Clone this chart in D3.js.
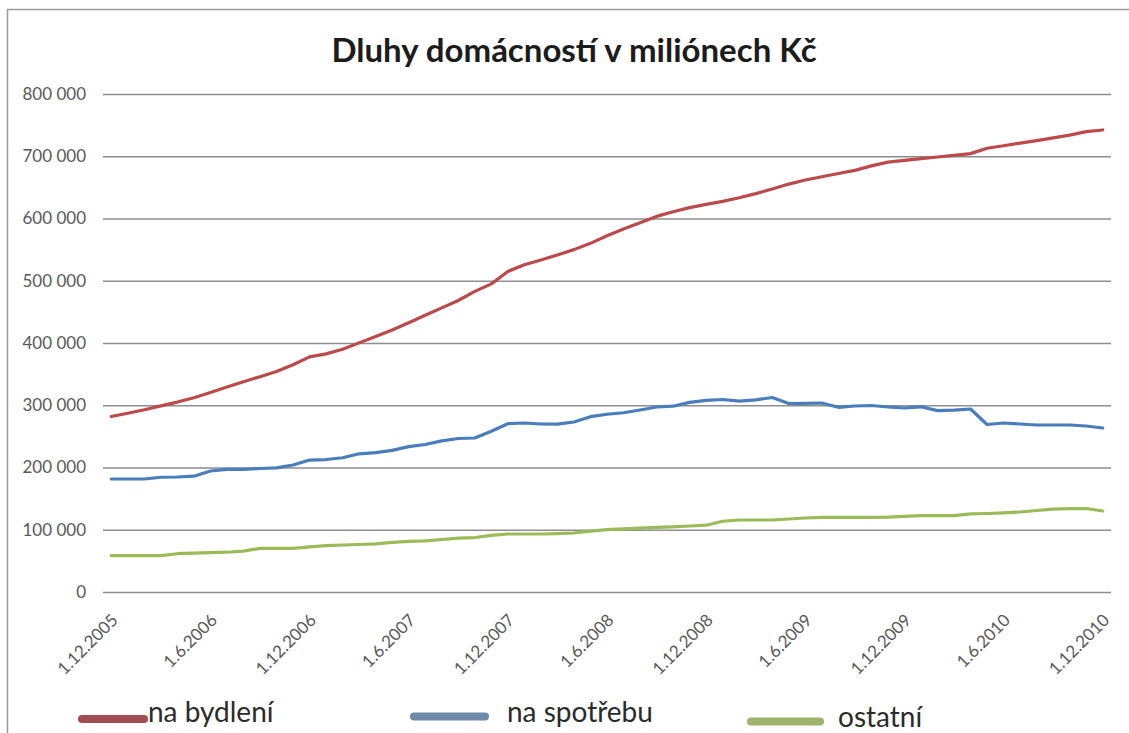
<!DOCTYPE html>
<html>
<head>
<meta charset="utf-8">
<script src="https://cdn.jsdelivr.net/npm/d3@7"></script>
<style>
  body { margin: 0; background: #fff; }
  svg { display: block; font-family: Lato, 'Open Sans', sans-serif; }
</style>
</head>
<body>
<svg id="Chart"></svg>
<script>
// Dluhy domacnosti - monthly values in mil. Kc
let months = [
  '1.12.2005',
  '1.1.2006', '1.2.2006', '1.3.2006', '1.4.2006', '1.5.2006', '1.6.2006', '1.7.2006', '1.8.2006', '1.9.2006', '1.10.2006', '1.11.2006', '1.12.2006',
  '1.1.2007', '1.2.2007', '1.3.2007', '1.4.2007', '1.5.2007', '1.6.2007', '1.7.2007', '1.8.2007', '1.9.2007', '1.10.2007', '1.11.2007', '1.12.2007',
  '1.1.2008', '1.2.2008', '1.3.2008', '1.4.2008', '1.5.2008', '1.6.2008', '1.7.2008', '1.8.2008', '1.9.2008', '1.10.2008', '1.11.2008', '1.12.2008',
  '1.1.2009', '1.2.2009', '1.3.2009', '1.4.2009', '1.5.2009', '1.6.2009', '1.7.2009', '1.8.2009', '1.9.2009', '1.10.2009', '1.11.2009', '1.12.2009',
  '1.1.2010', '1.2.2010', '1.3.2010', '1.4.2010', '1.5.2010', '1.6.2010', '1.7.2010', '1.8.2010', '1.9.2010', '1.10.2010', '1.11.2010', '1.12.2010'
];

let bydleni = [
  281900, 287200, 292700, 299000, 305100, 312100, 320600, 329200, 337700, 345900,
  354200, 365000, 377800, 382500, 390000, 400200, 410600, 421000, 432400, 444500,
  456400, 468300, 483000, 495000, 515000, 525800, 533300, 541500, 550000, 560100,
  572200, 583100, 593200, 603400, 610900, 617500, 622800, 627500, 633400, 640000,
  647400, 655300, 661800, 667100, 672300, 677300, 684600, 690600, 693500, 696200,
  698800, 701500, 704200, 712800, 716900, 721100, 725100, 729500, 734000, 739600,
  742200
];

let spotreba = [
  181500, 181500, 181500, 184300, 184700, 186000, 194400, 197100, 197100, 198400,
  199500, 204000, 212000, 212800, 215700, 222000, 223900, 227600, 233600, 236900,
  242700, 246600, 247400, 258300, 270400, 271500, 269900, 269600, 273100, 281600,
  285500, 288000, 292400, 297200, 298500, 304700, 307900, 309200, 306700, 308600,
  312400, 302800, 303000, 303600, 296700, 298800, 299600, 297200, 295600, 297500,
  291400, 292200, 294000, 269100, 271500, 269900, 268300, 268300, 268300, 266700,
  263400
];

let ostatni = [
  58300, 58300, 58300, 58300, 61500, 62600, 63100, 63900, 65700, 70200,
  70200, 70200, 72400, 74500, 75500, 76300, 77400, 79700, 81300, 82100,
  84300, 86600, 87500, 90900, 93200, 93200, 93200, 93800, 94800, 97700,
  100200, 101500, 102600, 103800, 104700, 106000, 107300, 113700, 115700, 115700,
  115700, 117300, 118900, 120000, 120000, 120000, 120000, 120200, 121400, 122600,
  122600, 122600, 125500, 126100, 127200, 128500, 130900, 133000, 134000, 134100,
  130100
];

let seriesNames = ['na bydlení', 'na spotřebu', 'ostatní'];
let seriesColors = ['#bc4a4c', '#4a7dbb', '#9bbb59'];
let legendColors = ['#a04c52', '#6f89a8', '#9eb46a'];

let xTickLabels = ['1.12.2005', '1.6.2006', '1.12.2006', '1.6.2007', '1.12.2007', '1.6.2008',
  '1.12.2008', '1.6.2009', '1.12.2009', '1.6.2010', '1.12.2010'];
let yTicks = [0, 100000, 200000, 300000, 400000, 500000, 600000, 700000, 800000];

let titleText = 'Dluhy domácností v miliónech Kč';

function getChartConfig() {
  let width = 1129;
  let height = 733;
  let margin = { top: 94, bottom: 141, left: 103, right: 18 };
  let bodyWidth = width - margin.left - margin.right;
  let bodyHeight = height - margin.top - margin.bottom;
  let container = d3.select('#Chart').attr('width', width).attr('height', height);
  return { width, height, margin, bodyWidth, bodyHeight, container };
}

function getChartScales(config) {
  let { margin, bodyWidth, bodyHeight } = config;
  let xScale = d3.scalePoint()
    .domain(months)
    .range([margin.left, margin.left + bodyWidth])
    .padding(0.5);
  let yScale = d3.scaleLinear()
    .domain([0, 800000])
    .range([margin.top + bodyHeight, margin.top]);
  return { xScale, yScale };
}

function drawFrame(config) {
  let { container, width, height } = config;
  container.append('path')
    .attr('d', `M7.5,${height}V9.5H${width}`)
    .attr('fill', 'none')
    .attr('stroke', '#9a9a9a')
    .attr('stroke-width', 1.5);

  container.append('text')
    .attr('x', 574)
    .attr('y', 62)
    .attr('text-anchor', 'middle')
    .style('font-size', '33px')
    .style('font-weight', 'bold')
    .attr('fill', '#1c1c1c')
    .text(titleText);
}

function drawAxes(scales, config) {
  let { xScale, yScale } = scales;
  let { container, margin, bodyWidth, bodyHeight } = config;
  let fmt = d3.formatLocale({ decimal: ',', thousands: ' ', grouping: [3], currency: ['', ' Kč'] }).format(',');

  let axisY = d3.axisLeft(yScale)
    .tickValues(yTicks)
    .tickSize(-bodyWidth)
    .tickPadding(17)
    .tickFormat(fmt);
  let gy = container.append('g')
    .attr('transform', `translate(${margin.left},0)`)
    .call(axisY);
  gy.select('.domain').remove();
  gy.selectAll('line').attr('stroke', '#8e8e8e').attr('stroke-width', 1.5);
  gy.selectAll('text')
    .attr('fill', '#595959')
    .style('font-size', '17px')
    .style('font-family', 'Lato, sans-serif');

  let axisX = d3.axisBottom(xScale)
    .tickValues(xTickLabels)
    .tickSize(0);
  let gx = container.append('g')
    .attr('transform', `translate(0,${margin.top + bodyHeight})`)
    .call(axisX);
  gx.select('.domain').remove();
  gx.selectAll('text')
    .attr('x', 0)
    .attr('y', 0)
    .attr('dy', '0.35em')
    .attr('text-anchor', 'end')
    .attr('transform', 'translate(3,25) rotate(-45)')
    .attr('fill', '#595959')
    .style('font-size', '17px')
    .style('font-family', 'Lato, sans-serif');
}

function drawLines(scales, config) {
  let { xScale, yScale } = scales;
  let { container } = config;
  let line = d3.line()
    .x((d, i) => xScale(months[i]))
    .y(d => yScale(d));

  [bydleni, spotreba, ostatni].forEach((values, k) => {
    container.append('path')
      .datum(values)
      .attr('d', line)
      .attr('fill', 'none')
      .attr('stroke', seriesColors[k])
      .attr('stroke-width', 3.2)
      .attr('stroke-linejoin', 'round')
      .attr('stroke-linecap', 'round');
  });
}

function drawLegend(config) {
  let { container } = config;
  // legend sits low, close to the picture edge
  let items = [
    { x1: 82, x2: 144, ly: 719, tx: 148, ty: 722 },
    { x1: 414, x2: 485, ly: 716.5, tx: 507, ty: 722 },
    { x1: 751, x2: 820, ly: 721.5, tx: 838, ty: 727 }
  ];
  items.forEach((it, k) => {
    container.append('line')
      .attr('x1', it.x1).attr('x2', it.x2)
      .attr('y1', it.ly).attr('y2', it.ly)
      .attr('stroke', legendColors[k])
      .attr('stroke-width', 8)
      .attr('stroke-linecap', 'round');
    container.append('text')
      .attr('x', it.tx)
      .attr('y', it.ty)
      .style('font-size', '28px')
      .attr('fill', '#2b2b2b')
      .text(seriesNames[k]);
  });
}

function drawChart() {
  let config = getChartConfig();
  let scales = getChartScales(config);
  drawFrame(config);
  drawAxes(scales, config);
  drawLines(scales, config);
  drawLegend(config);
}

drawChart();
</script>
</body>
</html>
